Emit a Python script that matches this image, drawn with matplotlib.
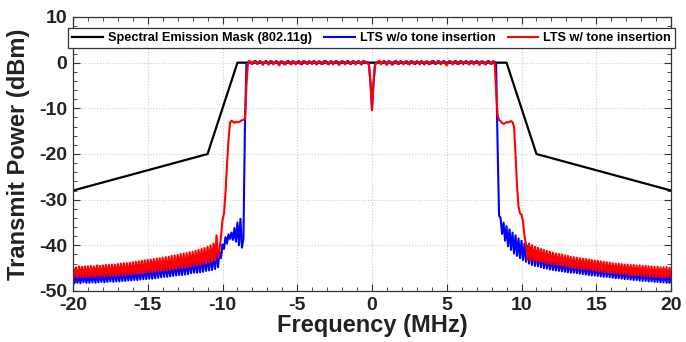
import numpy as np
import matplotlib
matplotlib.use("Agg")
import matplotlib.pyplot as plt
from matplotlib.ticker import MultipleLocator

# ---------------- data ----------------
# frequency grid (MHz), 0.1 MHz spacing from -20 to 20
freq = np.round(np.linspace(-20.0, 20.0, 401), 1)

mask_freq = [-20, -11, -9, 9, 11, 20]
mask_db = [-28, -20, 0, 0, -20, -28]

# LTS w/o tone insertion (blue): f = -20.0 .. -8.5
blue_left = [
    -46.3, -48.3, -46.2, -48.2, -46.4, -48.3, -46.2, -48.1, -46.3, -48.2,
    -46.2, -48.2, -46.1, -48.1, -46.2, -48.2, -46.0, -48.1, -46.1, -48.0,
    -46.0, -48.1, -45.9, -48.0, -45.9, -47.9, -45.8, -48.0, -45.8, -47.9,
    -45.7, -47.9, -45.6, -47.8, -45.6, -47.8, -45.5, -47.7, -45.4, -47.7,
    -45.3, -47.6, -45.3, -47.6, -45.2, -47.5, -45.1, -47.4, -45.0, -47.4,
    -44.9, -47.3, -44.8, -47.3, -44.7, -47.2, -44.6, -47.1, -44.5, -47.0,
    -44.4, -46.9, -44.3, -46.9, -44.2, -46.8, -44.0, -46.7, -43.9, -46.6,
    -43.8, -46.5, -43.7, -46.5, -43.5, -46.4, -43.4, -46.3, -43.2, -46.1,
    -43.0, -46.0, -42.9, -46.0, -42.7, -45.9, -42.5, -45.8, -42.3, -45.6,
    -42.0, -45.5, -41.8, -45.4, -41.5, -45.2, -41.2, -44.8, -41.5, -42.8,
    -39.8, -40.8, -38.2, -39.6, -37.6, -38.6, -37.2, -38.8, -36.2, -39.2,
    -35.0, -40.0, -34.2, -40.5, -38.5, -14.0,
]
# blue: f = -8.4 .. 8.4
blue_mid = [
    -0.4, 0.1, 0.3, 0.0, -0.3, 0.2, 0.4, 0.0, -0.2, 0.3,
    0.2, -0.3, 0.0, 0.4, 0.1, -0.4, 0.2, 0.3, -0.2, 0.0,
    0.4, 0.0, -0.3, 0.2, 0.3, -0.1, -0.4, 0.1, 0.4, 0.0,
    -0.3, 0.3, 0.2, -0.2, 0.0, 0.4, -0.1, -0.4, 0.2, 0.3,
    0.0, -0.3, 0.3, 0.1, -0.2, 0.4, 0.0, -0.4, 0.1, 0.3,
    -0.1, -0.3, 0.2, 0.4, 0.0, -0.3, 0.2, 0.3, -0.2, 0.0,
    0.4, 0.1, -0.4, 0.0, 0.3, 0.2, -0.3, 0.1, 0.4, -0.1,
    -0.3, 0.2, 0.3, -0.2, 0.0, 0.4, 0.0, -0.4, 0.2, 0.3,
    0.1, 0.0, -0.5, -4.5, -10.3, -4.5, -0.5, 0.0, 0.2, 0.3,
    -0.2, 0.0, 0.4, 0.1, -0.3, 0.2, 0.3, -0.2, -0.4, 0.1,
    0.4, 0.0, -0.3, 0.3, 0.2, -0.2, 0.0, 0.4, -0.1, -0.4,
    0.2, 0.3, 0.0, -0.3, 0.3, 0.1, -0.2, 0.4, 0.0, -0.4,
    0.1, 0.3, -0.1, -0.3, 0.2, 0.4, 0.0, -0.3, 0.2, 0.3,
    -0.2, 0.0, 0.4, 0.1, -0.4, 0.0, 0.3, 0.2, -0.3, 0.1,
    0.4, -0.1, -0.3, 0.2, 0.3, -0.2, 0.0, 0.4, 0.0, -0.4,
    0.2, 0.3, -0.2, 0.0, 0.4, 0.1, -0.3, 0.2, 0.3, -0.1,
    -0.4, 0.1, 0.4, 0.0, -0.3, 0.3, 0.2, -0.2, -18.0,
]
# blue: f = 8.5 .. 20.0
blue_right = [
    -33.5, -34.0, -37.5, -35.0, -39.0, -35.8, -40.2, -36.5, -41.0, -37.2,
    -41.8, -37.8, -42.3, -38.5, -42.8, -39.0, -43.2, -39.6, -43.6, -40.2,
    -44.0, -40.6, -44.3, -41.0, -44.5, -41.4, -44.6, -41.7, -44.8, -42.0,
    -45.0, -42.2, -45.1, -42.4, -45.3, -42.6, -45.4, -42.8, -45.5, -43.0,
    -45.6, -43.1, -45.7, -43.2, -45.8, -43.4, -45.9, -43.5, -46.0, -43.7,
    -46.0, -43.8, -46.1, -43.9, -46.2, -44.0, -46.3, -44.1, -46.4, -44.2,
    -46.5, -44.3, -46.6, -44.4, -46.6, -44.5, -46.7, -44.6, -46.8, -44.7,
    -46.9, -44.8, -46.9, -44.9, -47.0, -45.0, -47.1, -45.0, -47.2, -45.1,
    -47.2, -45.2, -47.3, -45.3, -47.4, -45.3, -47.4, -45.4, -47.5, -45.5,
    -47.6, -45.5, -47.6, -45.6, -47.7, -45.6, -47.8, -45.7, -47.8, -45.8,
    -47.9, -45.8, -47.9, -45.9, -48.0, -45.9, -48.0, -46.0, -48.1, -46.0,
    -48.1, -46.1, -48.2, -46.0, -48.2, -46.1,
]

# LTS w/ tone insertion (red): f = -20.0 .. -8.5
red_left = [
    -44.7, -47.0, -44.8, -47.1, -44.6, -46.9, -44.7, -47.0, -44.6, -46.9,
    -44.6, -46.9, -44.5, -46.8, -44.6, -46.9, -44.4, -46.8, -44.5, -46.8,
    -44.4, -46.8, -44.3, -46.7, -44.3, -46.7, -44.2, -46.7, -44.2, -46.6,
    -44.1, -46.6, -44.0, -46.5, -43.9, -46.5, -43.9, -46.4, -43.8, -46.4,
    -43.7, -46.3, -43.6, -46.2, -43.5, -46.2, -43.4, -46.1, -43.3, -46.0,
    -43.2, -45.9, -43.1, -45.9, -43.0, -45.8, -42.9, -45.7, -42.8, -45.6,
    -42.7, -45.5, -42.6, -45.5, -42.5, -45.4, -42.3, -45.3, -42.2, -45.1,
    -42.1, -45.0, -41.9, -45.0, -41.8, -44.9, -41.7, -44.8, -41.5, -44.6,
    -41.4, -44.5, -41.2, -44.4, -41.0, -44.3, -40.8, -44.1, -40.6, -44.0,
    -40.3, -43.8, -40.0, -43.6, -39.6, -43.3, -37.8, -42.6, -41.0, -38.0,
    -34.5, -33.0, -28.5, -22.5, -17.0, -13.2, -12.7, -12.9, -13.2, -12.9,
    -13.1, -13.0, -12.8, -12.6, -12.5, -12.3,
]
# red: f = -8.4 .. 8.4
red_mid = [
    -5.0, -0.3, 0.4, -0.2, -0.1, 0.3, 0.2, -0.3, 0.0, 0.4,
    0.1, -0.5, 0.1, 0.3, -0.2, -0.3, 0.4, 0.2, -0.4, 0.1,
    0.3, -0.2, -0.6, 0.3, 0.2, -0.3, -0.2, 0.3, 0.2, -0.2,
    -0.4, 0.4, 0.1, -0.4, 0.2, 0.3, -0.3, -0.2, 0.4, 0.1,
    -0.2, -0.1, 0.4, -0.1, -0.3, 0.3, 0.2, -0.2, 0.3, 0.1,
    -0.3, -0.1, 0.4, 0.2, -0.2, -0.4, 0.3, 0.1, -0.4, 0.2,
    0.3, -0.1, -0.5, 0.2, 0.4, 0.0, -0.4, 0.3, 0.2, -0.3,
    -0.1, 0.4, 0.1, -0.4, 0.2, 0.3, -0.2, -0.3, 0.4, 0.1,
    -0.1, 0.1, -0.6, -4.6, -10.4, -4.6, -0.6, 0.1, 0.0, 0.4,
    -0.4, 0.2, 0.3, -0.2, -0.5, 0.4, 0.1, -0.4, -0.2, 0.3,
    0.2, -0.3, -0.1, 0.4, 0.0, -0.4, 0.2, 0.3, -0.3, -0.2,
    0.4, 0.1, -0.3, -0.1, 0.4, -0.1, -0.4, 0.3, 0.2, -0.2,
    0.3, 0.1, -0.4, -0.1, 0.4, 0.2, -0.3, -0.1, 0.4, 0.1,
    -0.4, 0.2, 0.3, -0.2, -0.6, 0.2, 0.4, 0.0, -0.4, 0.3,
    0.2, -0.3, -0.1, 0.4, 0.1, -0.4, 0.2, 0.3, -0.2, -0.3,
    0.4, 0.1, -0.4, 0.2, 0.3, -0.1, -0.5, 0.3, 0.2, -0.2,
    -0.3, 0.3, 0.2, -0.2, -0.1, 0.4, 0.0, -6.0, -11.5,
]
# red: f = 8.5 .. 20.0
red_right = [
    -12.6, -12.8, -13.2, -13.4, -13.3, -13.0, -13.1, -13.0, -12.8, -13.0,
    -14.0, -20.0, -27.0, -31.5, -33.0, -33.3, -34.8, -38.0, -39.8, -43.0,
    -39.6, -43.3, -40.0, -43.4, -40.3, -43.5, -40.5, -43.6, -40.8, -43.7,
    -41.0, -43.9, -41.2, -44.0, -41.4, -44.1, -41.6, -44.2, -41.8, -44.3,
    -41.9, -44.4, -42.0, -44.5, -42.2, -44.7, -42.3, -44.8, -42.5, -44.9,
    -42.6, -45.0, -42.7, -45.1, -42.8, -45.2, -42.9, -45.2, -43.0, -45.3,
    -43.1, -45.4, -43.2, -45.5, -43.3, -45.6, -43.4, -45.7, -43.5, -45.8,
    -43.6, -45.9, -43.7, -46.0, -43.8, -46.0, -43.9, -46.1, -44.0, -46.2,
    -44.0, -46.3, -44.1, -46.3, -44.2, -46.4, -44.2, -46.5, -44.3, -46.5,
    -44.3, -46.6, -44.4, -46.6, -44.4, -46.7, -44.5, -46.7, -44.5, -46.8,
    -44.6, -46.8, -44.6, -46.9, -44.7, -46.9, -44.7, -46.9, -44.8, -47.0,
    -44.8, -47.0, -44.8, -47.0, -44.9, -47.0,
]

blue_db = np.array(blue_left + blue_mid + blue_right)
red_db = np.array(red_left + red_mid + red_right)

xticks = [-20, -15, -10, -5, 0, 5, 10, 15, 20]
yticks = [-50, -40, -30, -20, -10, 0, 10]
labels = ["Spectral Emission Mask (802.11g)", "LTS w/o tone insertion", "LTS w/ tone insertion"]

# ---------------- plot ----------------
plt.rcParams['font.family'] = ['Liberation Sans', 'DejaVu Sans']
plt.rcParams['font.weight'] = 'bold'
plt.rcParams['axes.unicode_minus'] = False

fig = plt.figure(figsize=(6.86, 3.42), dpi=100)
ax = fig.add_axes([73/686, 1-291/342, (671-73)/686, (291-17)/342])

ax.plot(mask_freq, mask_db, color='black', lw=1.6, label=labels[0])
ax.plot(freq, blue_db, color='#0000ff', lw=1.5, label=labels[1])
ax.plot(freq, red_db, color='#ff0000', lw=1.5, label=labels[2])

ax.set_xlim(-20, 20)
ax.set_ylim(-50, 10)
ax.set_xticks(xticks)
ax.set_yticks(yticks)
ax.xaxis.set_minor_locator(MultipleLocator(1))
ax.yaxis.set_minor_locator(MultipleLocator(2))
ax.tick_params(which='both', direction='in', top=True, right=True, colors='#333333')
ax.tick_params(which='major', length=5, width=0.8, labelsize=14, pad=4, labelcolor='#222222')
ax.tick_params(which='minor', length=3, width=0.6)
for lab in ax.get_xticklabels() + ax.get_yticklabels():
    lab.set_fontweight('bold')
ax.grid(True, which='major', linestyle=':', color='#cccccc', lw=0.8)
for s in ax.spines.values():
    s.set_color('#333333')
    s.set_linewidth(0.9)

ax.set_xlabel("Frequency (MHz)", fontsize=17, fontweight='bold', color='#222222', labelpad=0)
ax.set_ylabel("Transmit Power (dBm)", fontsize=17, fontweight='bold', color='#222222', labelpad=7)

leg = fig.legend(loc='lower left', ncol=3, mode='expand',
                 bbox_to_anchor=(68/686, 1-48/342, (675-68)/686, 22/342),
                 borderaxespad=0, fancybox=False, framealpha=1,
                 edgecolor='#333333', handlelength=2.4, handletextpad=0.4,
                 columnspacing=0.6, borderpad=0.3,
                 prop={'weight': 'bold', 'size': 9.2})
leg.get_frame().set_linewidth(0.9)

fig.savefig("out.png", dpi=100)
